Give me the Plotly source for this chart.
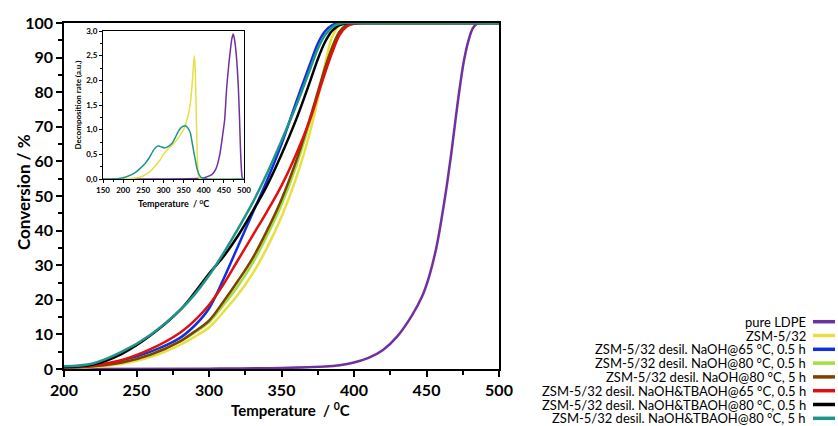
import plotly.graph_objects as go

# ---------------- data ----------------
series_names = [
    "pure LDPE",
    "ZSM-5/32",
    "ZSM-5/32 desil. NaOH@65 °C, 0.5 h",
    "ZSM-5/32 desil. NaOH@80 °C, 0.5 h",
    "ZSM-5/32 desil. NaOH@80 °C, 5 h",
    "ZSM-5/32 desil. NaOH&TBAOH@65 °C, 0.5 h",
    "ZSM-5/32 desil. NaOH&TBAOH@80 °C, 0.5 h",
    "ZSM-5/32 desil. NaOH&TBAOH@80 °C, 5 h",
]
series_colors = ["#7030A0", "#E6E045", "#1030E0", "#9FE03A", "#804000", "#E01010", "#000000", "#1E958A"]

temp_ldpe = [200, 300, 350, 380, 390, 400, 410, 420, 430, 440, 447, 452, 457, 461, 464, 467, 470, 473, 476, 479, 482, 485, 488, 500]
conv_ldpe = [0, 0.1, 0.3, 0.7, 1.1, 1.9, 3.2, 5.5, 9.5, 15.5, 21, 27, 35.5, 45, 53, 62, 72, 81.5, 89.5, 95, 98.5, 99.8, 100, 100]

temp_grid = [200, 220, 240, 260, 280, 290, 300, 310, 320, 330, 340, 350, 360, 370, 375, 380, 385, 390, 395, 400, 410, 450, 500]
conv_zsm = [0.3, 0.6, 1.5, 3.5, 7.0, 9.3, 12, 16.5, 21.5, 27.5, 35, 44, 55, 69, 78, 88, 96, 99.3, 99.9, 100, 100, 100, 100]
conv_naoh65_05 = [0.4, 0.9, 2.3, 5.0, 9.0, 12.5, 17.5, 26, 35.5, 45, 54.5, 65, 77, 88.5, 94, 97.6, 99.4, 100, 100, 100, 100, 100, 100]
conv_naoh80_05 = [0.4, 0.8, 1.9, 4.3, 8.0, 10.5, 13.5, 18.5, 24, 30.5, 38.5, 47.5, 58.5, 72, 79.5, 86.5, 93, 97.5, 99.4, 99.9, 100, 100, 100]
conv_naoh80_5 = [0.4, 0.8, 1.9, 4.2, 8.0, 10.8, 14, 19.5, 25.5, 32, 40, 49, 60, 73, 80, 87, 93, 97.5, 99.4, 99.9, 100, 100, 100]
conv_tbaoh65_05 = [0.5, 1.0, 2.6, 5.8, 10.5, 14, 18.5, 24.5, 31.5, 38.5, 45.5, 53, 62, 72.5, 79, 85.5, 91.5, 96.5, 99, 99.8, 100, 100, 100]
conv_tbaoh80_05 = [0.6, 1.3, 4.4, 9.8, 17, 22, 27.5, 32.5, 38.5, 45.5, 53, 62, 72, 83.5, 89.5, 94.5, 97.8, 99.4, 99.9, 100, 100, 100, 100]
conv_tbaoh80_5 = [0.8, 1.6, 5.0, 10, 17, 21.5, 27, 33.5, 40.5, 48, 56.5, 66, 76, 87, 92.5, 96.5, 98.8, 99.8, 100, 100, 100, 100, 100]

# inset: decomposition rate
inset_temp_ldpe = [150, 300, 400, 410, 420, 430, 440, 448, 452, 457, 462, 466, 470, 473.5, 477, 481, 486, 489, 491.5, 494, 496, 500]
inset_rate_ldpe = [0, 0, 0.02, 0.05, 0.09, 0.2, 0.5, 0.95, 1.2, 1.85, 2.3, 2.6, 2.85, 2.94, 2.8, 2.5, 1.85, 1.2, 0.55, 0.15, 0.02, 0]
inset_temp_zsm = [150, 200, 220, 243, 255, 268, 280, 293, 300, 310, 320, 330, 340, 350, 360, 367, 372, 375, 377, 379, 381, 383, 385.5, 388, 400, 500]
inset_rate_zsm = [0, 0, 0.01, 0.04, 0.09, 0.16, 0.27, 0.4, 0.5, 0.6, 0.67, 0.76, 0.87, 1.0, 1.25, 1.55, 2.0, 2.35, 2.5, 2.2, 1.5, 0.8, 0.2, 0.02, 0, 0]
inset_temp_tb = [150, 190, 210, 230, 243, 255, 264, 276, 284, 289, 295, 303, 310, 322, 330, 338, 347, 355, 361, 367, 371, 376, 380, 384, 390, 396, 410, 500]
inset_rate_tb = [0, 0.01, 0.05, 0.13, 0.22, 0.32, 0.42, 0.59, 0.66, 0.67, 0.65, 0.63, 0.65, 0.73, 0.85, 0.98, 1.06, 1.08, 1.03, 0.93, 0.75, 0.52, 0.35, 0.19, 0.07, 0.02, 0, 0]

inset_ytick_vals = [0, 0.5, 1.0, 1.5, 2.0, 2.5, 3.0]
inset_ytick_text = ["0,0", "0,5", "1,0", "1,5", "2,0", "2,5", "3,0"]

# ---------------- figure ----------------
FONT = "Lato"
W, H = 838, 426
L, R, T, B = 64, 499, 23, 369
PW, PH = R - L, B - T


def px(x):
    return (x - L) / PW


def py(y):
    return (B - y) / PH


fig = go.Figure()

main_series = [
    (temp_ldpe, conv_ldpe),
    (temp_grid, conv_zsm),
    (temp_grid, conv_naoh65_05),
    (temp_grid, conv_naoh80_05),
    (temp_grid, conv_naoh80_5),
    (temp_grid, conv_tbaoh65_05),
    (temp_grid, conv_tbaoh80_05),
    (temp_grid, conv_tbaoh80_5),
]
for (xs, ys), name, col in zip(main_series, series_names, series_colors):
    fig.add_trace(go.Scatter(x=xs, y=ys, mode="lines", name=name,
                             line=dict(color=col, width=2.5, shape="spline", smoothing=1.0),
                             showlegend=False, xaxis="x", yaxis="y"))

inset_series = [
    (inset_temp_ldpe, inset_rate_ldpe, series_colors[0]),
    (inset_temp_zsm, inset_rate_zsm, series_colors[1]),
    (inset_temp_tb, inset_rate_tb, series_colors[7]),
]
for xs, ys, col in inset_series:
    fig.add_trace(go.Scatter(x=xs, y=ys, mode="lines",
                             line=dict(color=col, width=1.5, shape="spline", smoothing=0.6),
                             showlegend=False, xaxis="x2", yaxis="y2"))

axis_common = dict(showline=True, linecolor="black", linewidth=1.5, mirror=True,
                   ticks="outside", ticklen=6, tickwidth=1.5, tickcolor="black",
                   showgrid=False, zeroline=False)

fig.update_layout(
    width=W, height=H,
    margin=dict(l=L, r=W - R, t=T, b=H - B, autoexpand=False),
    paper_bgcolor="white", plot_bgcolor="white",
    font=dict(family=FONT, color="black"),
    xaxis=dict(range=[200, 500], dtick=50, tick0=200,
               tickfont=dict(size=16, family=FONT, weight="bold"),
               minor=dict(dtick=25, ticks="outside", ticklen=4, tickwidth=1.5, tickcolor="black"),
               **axis_common),
    yaxis=dict(range=[0, 100], dtick=10, tick0=0,
               tickfont=dict(size=16, family=FONT, weight="bold"),
               minor=dict(dtick=5, ticks="outside", ticklen=4, tickwidth=1.5, tickcolor="black"),
               **axis_common),
    xaxis2=dict(domain=[px(103), px(244)], anchor="y2", range=[150, 500], dtick=50, tick0=150,
                showline=True, linecolor="black", linewidth=1, mirror=True,
                ticks="outside", ticklen=3, tickcolor="black", showgrid=False, zeroline=False,
                minor=dict(dtick=25, ticks="outside", ticklen=2, tickcolor="black"),
                tickfont=dict(size=8, weight="bold"),
                title=dict(text="Temperature  / <sup>0</sup>C", font=dict(size=9, weight="bold"), standoff=7)),
    yaxis2=dict(domain=[py(179), py(31)], anchor="x2", range=[0, 3.0],
                tickvals=inset_ytick_vals, ticktext=inset_ytick_text,
                showline=True, linecolor="black", linewidth=1, mirror=True,
                ticks="outside", ticklen=3, tickcolor="black", showgrid=False, zeroline=False,
                minor=dict(dtick=0.25, ticks="outside", ticklen=2, tickcolor="black"),
                tickfont=dict(size=8, weight="bold"),
                title=dict(text="Decomposition rate (a.u.)", font=dict(size=8, weight="bold"), standoff=3)),
)

# axis titles as annotations for exact placement
fig.add_annotation(x=px(23), y=py(192), xref="paper", yref="paper",
                   text="Conversion / %", textangle=-90, showarrow=False,
                   xanchor="center", yanchor="middle",
                   font=dict(size=17, family=FONT, weight="bold", color="black"))
fig.add_annotation(x=px(290), y=py(409), xref="paper", yref="paper",
                   text="Temperature  / <sup>0</sup>C", showarrow=False,
                   xanchor="center", yanchor="middle",
                   font=dict(size=15, family=FONT, weight="bold", color="black"))

# custom legend: right-aligned text with colour swatch at right
legend_rows_y = [321.7, 335.5, 349.3, 363.1, 376.9, 390.7, 404.5, 418.3]
for name, col, yy in zip(series_names, series_colors, legend_rows_y):
    fig.add_annotation(x=px(807), y=py(yy), xref="paper", yref="paper",
                       text=name, showarrow=False, xanchor="right", yanchor="middle",
                       borderpad=0,
                       font=dict(size=13, family=FONT, color="black"))
    fig.add_shape(type="line", xref="paper", yref="paper",
                  x0=px(813), x1=px(835), y0=py(yy), y1=py(yy),
                  line=dict(color=col, width=3.5))

fig.write_html("out.html", config={"displayModeBar": False},
               post_script="document.body.style.margin='0';")
